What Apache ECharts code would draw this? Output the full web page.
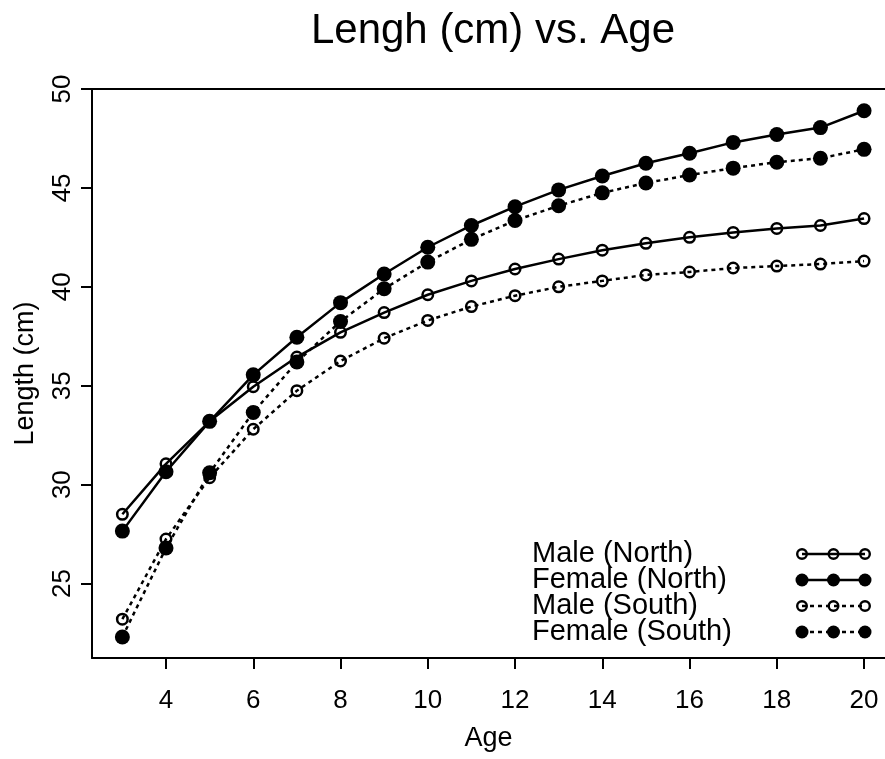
<!DOCTYPE html>
<html>
<head>
<meta charset="utf-8">
<script src="https://cdn.jsdelivr.net/npm/echarts@6/dist/echarts.min.js"></script>
<style>
  html, body { margin: 0; padding: 0; background: #fff; }
  #chart { width: 885px; height: 759px; }
</style>
</head>
<body>
<div id="chart"></div>
<script>
const ages = [3, 4, 5, 6, 7, 8, 9, 10, 11, 12, 13, 14, 15, 16, 17, 18, 19, 20];
const maleNorth   = [28.5, 31.05, 33.2, 34.95, 36.45, 37.7, 38.7, 39.6, 40.3, 40.9, 41.4, 41.85, 42.2, 42.5, 42.75, 42.95, 43.1, 43.45];
const femaleNorth = [27.65, 30.65, 33.2, 35.55, 37.45, 39.2, 40.65, 42.0, 43.1, 44.05, 44.9, 45.6, 46.25, 46.75, 47.3, 47.7, 48.05, 48.9];
const maleSouth   = [23.2, 27.25, 30.35, 32.8, 34.75, 36.25, 37.4, 38.3, 39.0, 39.55, 40.0, 40.3, 40.6, 40.75, 40.95, 41.05, 41.15, 41.3];
const femaleSouth = [22.3, 26.8, 30.6, 33.65, 36.2, 38.25, 39.9, 41.25, 42.4, 43.35, 44.1, 44.75, 45.25, 45.65, 46.0, 46.3, 46.5, 46.95];
const xTicks = [4, 6, 8, 10, 12, 14, 16, 18, 20];
const yTicks = [25, 30, 35, 40, 45, 50];
const seriesNames = ['Male (North)', 'Female (North)', 'Male (South)', 'Female (South)'];
const titleText = 'Lengh (cm) vs. Age';

const FONT = '"Liberation Sans", Arial, Helvetica, sans-serif';
const chart = echarts.init(document.getElementById('chart'), null, { renderer: 'canvas' });

function pairs(vals) { return ages.map((a, i) => [a, vals[i]]); }

function makeSeries(name, vals, filled, dotted) {
  return {
    name: name,
    type: 'line',
    data: pairs(vals),
    symbol: 'circle',
    symbolSize: filled ? 15 : 10.5,
    showSymbol: true,
    lineStyle: { color: '#000', width: 2.5, type: dotted ? [4, 4] : 'solid' },
    itemStyle: filled
      ? { color: '#000', borderWidth: 0 }
      : { color: 'rgba(0,0,0,0)', borderColor: '#000', borderWidth: 2.5 },
    emphasis: { disabled: true },
    z: 3
  };
}

// legend drawn as graphic (three markers per row, like the original)
const legendRowsY = [554, 580, 606, 632];
const legendStyles = [
  { filled: false, dotted: false },
  { filled: true, dotted: false },
  { filled: false, dotted: true },
  { filled: true, dotted: true }
];
const legendGraphics = [];
seriesNames.forEach((nm, i) => {
  const y = legendRowsY[i];
  const st = legendStyles[i];
  legendGraphics.push({
    type: 'text',
    style: { text: nm, x: 532, y: y, font: '29px ' + FONT, fill: '#000', align: 'left', verticalAlign: 'middle' }
  });
  legendGraphics.push({
    type: 'line',
    shape: { x1: 802, y1: y, x2: 865, y2: y },
    style: { stroke: '#000', lineWidth: 2.5, lineDash: st.dotted ? [4, 4] : null }
  });
  [802, 833.5, 865].forEach(cx => {
    legendGraphics.push({
      type: 'circle',
      shape: { cx: cx, cy: y, r: st.filled ? 6.5 : 4.8 },
      style: st.filled ? { fill: '#000' } : { fill: 'none', stroke: '#000', lineWidth: 2.4 }
    });
  });
});

const option = {
  animation: false,
  backgroundColor: '#fff',
  textStyle: { fontFamily: FONT },
  grid: { left: 92, top: 89, right: 0, bottom: 101, show: false },
  xAxis: [
    {
      type: 'value', min: 2.304, max: 20.48, position: 'bottom',
      axisLine: { show: true, lineStyle: { color: '#000', width: 2 } },
      splitLine: { show: false },
      axisTick: { show: true, customValues: xTicks, length: 11, lineStyle: { color: '#000', width: 2 } },
      axisLabel: { customValues: xTicks, fontSize: 26, color: '#000', margin: 30, fontFamily: FONT },
      name: 'Age', nameLocation: 'middle', nameGap: 67,
      nameTextStyle: { fontSize: 27, color: '#000', fontFamily: FONT }
    },
    {
      type: 'value', min: 2.304, max: 20.48, position: 'top',
      axisLine: { show: true, onZero: false, lineStyle: { color: '#000', width: 2 } },
      splitLine: { show: false },
      axisTick: { show: false },
      axisLabel: { show: false }
    }
  ],
  yAxis: {
    type: 'value', min: 21.236, max: 50,
    axisLine: { show: true, lineStyle: { color: '#000', width: 2 } },
    splitLine: { show: false },
    axisTick: { show: true, customValues: yTicks, length: 11, lineStyle: { color: '#000', width: 2 } },
    axisLabel: { customValues: yTicks, fontSize: 26, color: '#000', margin: 16, rotate: 90, fontFamily: FONT },
    name: 'Length (cm)', nameLocation: 'middle', nameGap: 53, nameRotate: 90,
    nameTextStyle: { fontSize: 27, color: '#000', fontFamily: FONT }
  },
  series: [
    makeSeries(seriesNames[0], maleNorth, false, false),
    makeSeries(seriesNames[1], femaleNorth, true, false),
    makeSeries(seriesNames[2], maleSouth, false, true),
    makeSeries(seriesNames[3], femaleSouth, true, true)
  ],
  graphic: [
    {
      type: 'text',
      style: { text: titleText, x: 493, y: 31, font: '42px ' + FONT, fill: '#000', align: 'center', verticalAlign: 'middle' }
    }
  ].concat(legendGraphics)
};
chart.setOption(option);
</script>
</body>
</html>
